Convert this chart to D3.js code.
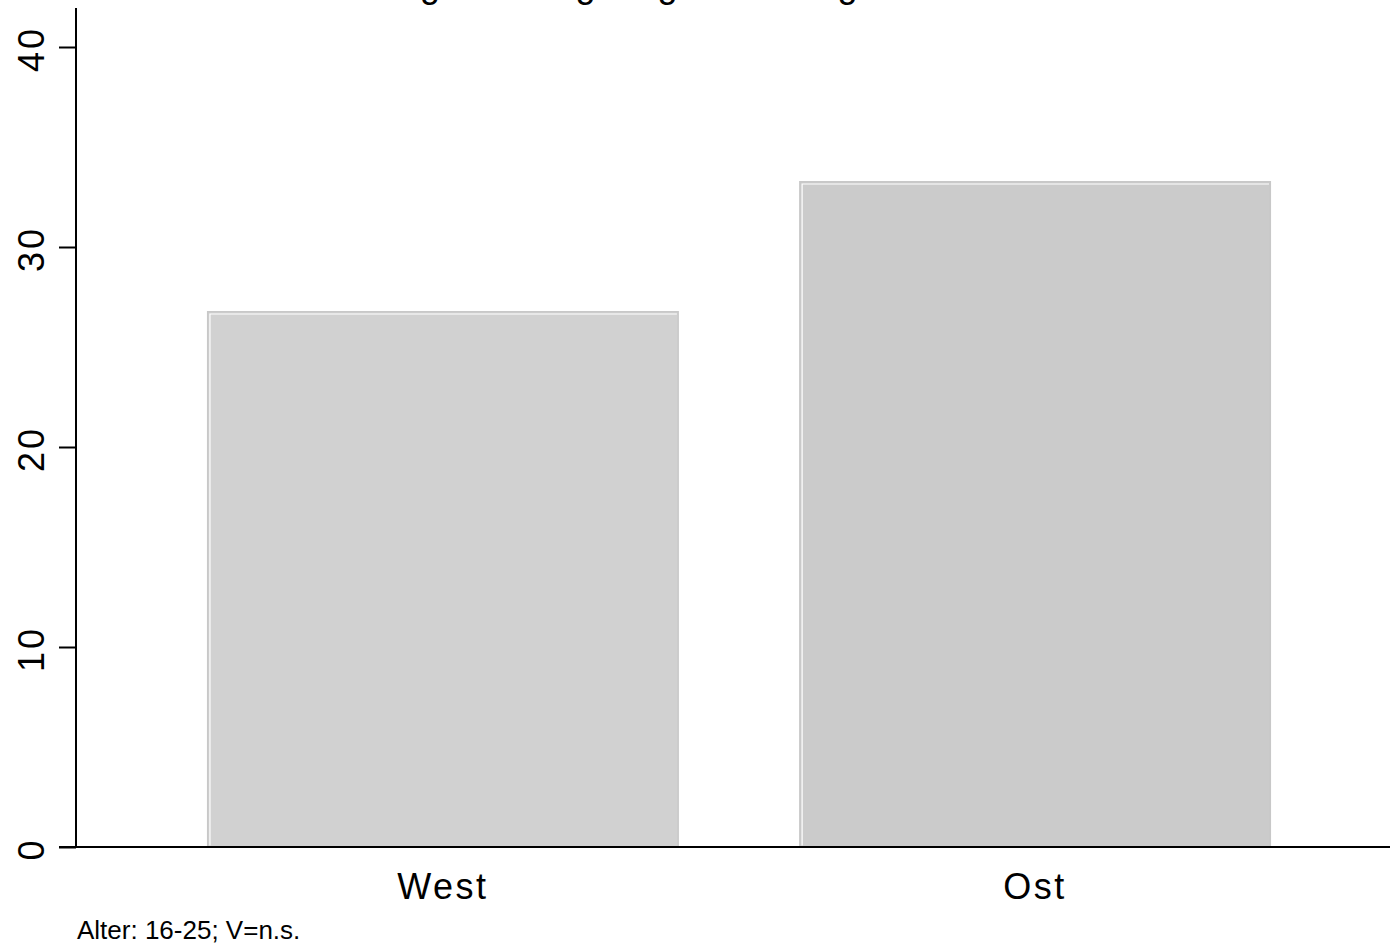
<!DOCTYPE html>
<html>
<head>
<meta charset="utf-8">
<script src="https://cdn.jsdelivr.net/npm/d3@7"></script>
<style>
  html, body { margin: 0; padding: 0; background: #fff; }
  svg { display: block; font-family: "Liberation Sans", Arial, sans-serif; }
</style>
</head>
<body>
<svg id="chart" width="1390" height="947"></svg>
<script>
const categories = ["West", "Ost"];
const values = [26.8, 33.3];
const barColors = ["#d1d1d1", "#cbcbcb"];
const yTicks = [0, 10, 20, 30, 40];
const titleText = "Zustimmung: Wertung für gute Bildung";
const noteText = "Alter: 16-25; V=n.s.";

const svg = d3.select("#chart");

const y = d3.scaleLinear().domain([0, 40]).range([847, 47]);
const x = d3.scaleBand().domain(categories).range([82, 1396])
  .paddingInner(0.203).paddingOuter(0.211);

// title (cut off at the top edge, as in the reference)
svg.append("text")
  .attr("x", 242).attr("y", -3)
  .attr("text-anchor", "start")
  .attr("font-size", 36)
  .attr("fill", "#000")
  .text(titleText);

// bars
const bars = svg.append("g");
categories.forEach((c, i) => {
  const x0 = x(c), w = x.bandwidth();
  const y0 = y(values[i]), h = y(0) - y(values[i]);
  bars.append("rect")
    .attr("x", x0 + 0.75).attr("y", y0 + 0.75)
    .attr("width", w - 1.5).attr("height", h - 0.75)
    .attr("fill", barColors[i])
    .attr("stroke", "#c8c8c8").attr("stroke-width", 1.5);
  bars.append("path")
    .attr("d", `M${x0 + 3},${y(0) - 1.5} L${x0 + 3},${y0 + 3} L${x0 + w - 2},${y0 + 3}`)
    .attr("fill", "none").attr("stroke", "#ffffff").attr("stroke-width", 1.2);
});

// y axis
const yAxis = d3.axisLeft(y).tickValues(yTicks).tickSize(17).tickFormat(d3.format("d"));
const gy = svg.append("g").attr("transform", "translate(76,0)").call(yAxis);
gy.select(".domain").remove();
gy.selectAll(".tick line").attr("stroke", "#000").attr("stroke-width", 2);
gy.selectAll(".tick text")
  .attr("x", 0).attr("dy", 0).attr("dx", 0)
  .attr("transform", "translate(-32,1.5) rotate(-90)")
  .attr("text-anchor", "middle")
  .attr("font-size", 36)
  .attr("letter-spacing", 3)
  .attr("font-family", "Liberation Sans, Arial, sans-serif")
  .attr("fill", "#000");
svg.append("line")
  .attr("x1", 76).attr("x2", 76).attr("y1", 8).attr("y2", y(0))
  .attr("stroke", "#000").attr("stroke-width", 2);

// x axis
const xAxis = d3.axisBottom(x).tickSize(0);
const gx = svg.append("g").attr("transform", `translate(0,${y(0)})`).call(xAxis);
gx.select(".domain").remove();
gx.selectAll(".tick text")
  .attr("y", 52).attr("dy", 0)
  .attr("font-size", 36)
  .attr("letter-spacing", 2.5)
  .attr("font-family", "Liberation Sans, Arial, sans-serif")
  .attr("fill", "#000");
svg.append("line")
  .attr("x1", 59).attr("x2", 1390).attr("y1", y(0)).attr("y2", y(0))
  .attr("stroke", "#000").attr("stroke-width", 2);

// note
svg.append("text")
  .attr("x", 77).attr("y", 939)
  .attr("font-size", 26)
  .attr("fill", "#000")
  .text(noteText);
</script>
</body>
</html>
